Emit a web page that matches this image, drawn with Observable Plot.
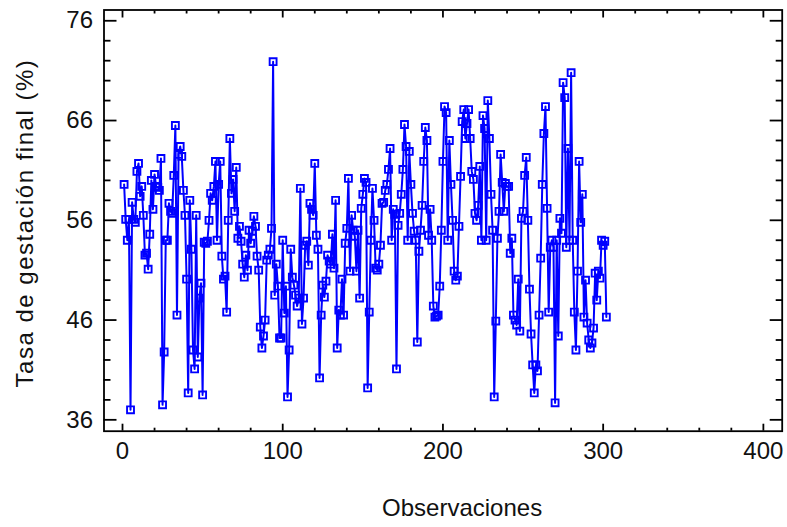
<!DOCTYPE html>
<html>
<head>
<meta charset="utf-8">
<script src="https://cdn.jsdelivr.net/npm/d3@7"></script>
<script src="https://cdn.jsdelivr.net/npm/@observablehq/plot@0.6"></script>
<style>html,body{margin:0;padding:0;background:#fff}</style>
</head>
<body>
<div id="chart"></div>
<script>
const tasa = [
59.6,56.1,54,56.1,37,57.8,56.1,55.8,60.9,61.7,
58.4,59.4,56.5,52.5,52.7,51.1,54.6,60,57.1,60.6,
59.4,59.3,59,62.2,37.5,42.8,54,54,57.7,56.9,
56.7,60.5,65.5,46.5,62.6,63.4,62.4,59,56.5,50.1,
38.7,58,53.1,43,41.1,56.5,42.3,48.2,49.7,38.5,
53.8,53.7,53.9,56,58.7,58,59.4,61.9,54,59.6,
61.9,52.4,50.1,50.4,46.8,56,64.2,58.7,60.1,56.9,
61.3,54.2,55.4,53.9,51.6,50.3,52.5,51,55,53.7,
54.9,56.4,55.4,52.4,51,45.3,43.2,44.4,46,52,
52.5,53.1,55.2,71.9,48.5,51.6,49.4,44.2,44.2,54,
46.7,49.4,38.3,43,53.1,50.3,49.5,48.5,47.4,48.2,
59.2,45.6,48.2,53.5,53.9,51.5,57.7,57.1,56.5,61.7,
54.5,53.1,40.2,46.5,49.5,48.3,49.9,52.5,51.9,51.6,
54.6,51.2,58,43.2,47,46.5,50.1,46.5,53.7,55.2,
60.2,50.9,56.5,55,54.4,50.9,55,48.2,57.2,58.6,
60.2,59.8,39.2,46.8,54,59.2,56,51.2,51,51.6,
53.5,57.7,57.8,59,59.6,61.1,63.2,54,57.1,56.6,
41.1,55.5,56.7,58.6,61.1,65.6,63.4,54,62.9,59.6,
56.7,54.9,54,43.8,52.9,55,57.5,61.9,65.3,64,
54.5,57.1,54,47.4,46.3,46.4,46.5,49.4,55,61.9,
67.4,66.8,54,64,59.6,56,50.9,50,50.4,55.4,
60.4,65.9,67.1,64.2,65.7,67.1,64.2,60.9,60.1,56.7,
56,57.5,61.4,54,66.5,65.2,54,68,64.2,58.6,
55,38.3,45.9,54.2,56.9,62.6,59.8,56.9,59.7,59.4,
59.4,52.7,54.2,46.5,46,45.5,50.1,44.9,56.2,56.9,
60.5,62.3,56,49.1,44.6,41.5,38.7,41.5,40.9,46.5,
52.2,59.6,64.7,67.4,57.2,46.8,53.3,54,53.3,37.7,
54,44.4,56.2,54.7,69.8,68.3,53.3,63.2,54,70.8,
54,46.8,43,50.9,61.9,55.8,58.6,46.3,50,45.7,
44,43.2,43.7,45.2,50.7,48,50.9,50.2,54,53.5,
53.9,46.3
];
const observaciones = tasa.map((_, i) => i + 1);
const tabla = observaciones.map((x, i) => ({x, y: tasa[i]}));

const xMayores = [0, 100, 200, 300, 400];
const yMayores = [36, 46, 56, 66, 76];
const xMenores = d3.range(0, 401, 20).filter(d => !xMayores.includes(d));
const yMenores = d3.range(36, 77, 2).filter(d => !yMayores.includes(d));

const tituloX = ["Observaciones"];
const tituloY = ["Tasa de gestación final (%)"];

const azul = "#0000ff";
const negro = "#000";
const etiqueta = 24;

const chart = Plot.plot({
  width: 787,
  height: 527,
  marginLeft: 103.5,
  marginRight: 5.3,
  marginTop: 9.5,
  marginBottom: 96.3,
  style: {fontFamily: "'Liberation Sans', Arial, sans-serif", background: "#fff", color: "#111"},
  x: {domain: [-11.55, 411.75]},
  y: {domain: [34.86, 77.08]},
  marks: [
    Plot.frame({stroke: negro, strokeWidth: 1.8}),
    Plot.axisX({anchor: "bottom", ticks: xMayores, tickSize: -7, tickPadding: 18, strokeWidth: 1.8, stroke: negro, fontSize: etiqueta, label: null}),
    Plot.axisX({anchor: "bottom", ticks: xMenores, tickSize: -3, strokeWidth: 1.8, stroke: negro, text: null, label: null}),
    Plot.axisX({anchor: "top", ticks: xMayores, tickSize: -7, strokeWidth: 1.8, stroke: negro, text: null, label: null}),
    Plot.axisX({anchor: "top", ticks: xMenores, tickSize: -3, strokeWidth: 1.8, stroke: negro, text: null, label: null}),
    Plot.axisY({anchor: "left", ticks: yMayores, tickSize: -13, tickPadding: 24, strokeWidth: 1.8, stroke: negro, fontSize: etiqueta, label: null}),
    Plot.axisY({anchor: "left", ticks: yMenores, tickSize: -7, strokeWidth: 1.8, stroke: negro, text: null, label: null}),
    Plot.axisY({anchor: "right", ticks: yMayores, tickSize: -13, strokeWidth: 1.8, stroke: negro, text: null, label: null}),
    Plot.axisY({anchor: "right", ticks: yMenores, tickSize: -7, strokeWidth: 1.8, stroke: negro, text: null, label: null}),
    Plot.line(tabla, {x: "x", y: "y", stroke: azul, strokeWidth: 2, curve: "linear"}),
    Plot.dot(tabla, {x: "x", y: "y", symbol: "square", r: 3.9, fill: "none", stroke: azul, strokeWidth: 1.9}),
    Plot.text(tituloX, {text: d => d, frameAnchor: "bottom", dx: 19, dy: 85, fontSize: 24, fill: "#111"}),
    Plot.text(tituloY, {text: d => d, frameAnchor: "left", textAnchor: "middle", dx: -78.5, dy: 2.5, rotate: -90, fontSize: 24, fill: "#111"})
  ]
});
d3.select(chart).selectAll("text")
  .filter(function () { return this.textContent === tituloY[0]; })
  .style("letter-spacing", "1.5px");
document.getElementById("chart").appendChild(chart);
</script>
</body>
</html>
